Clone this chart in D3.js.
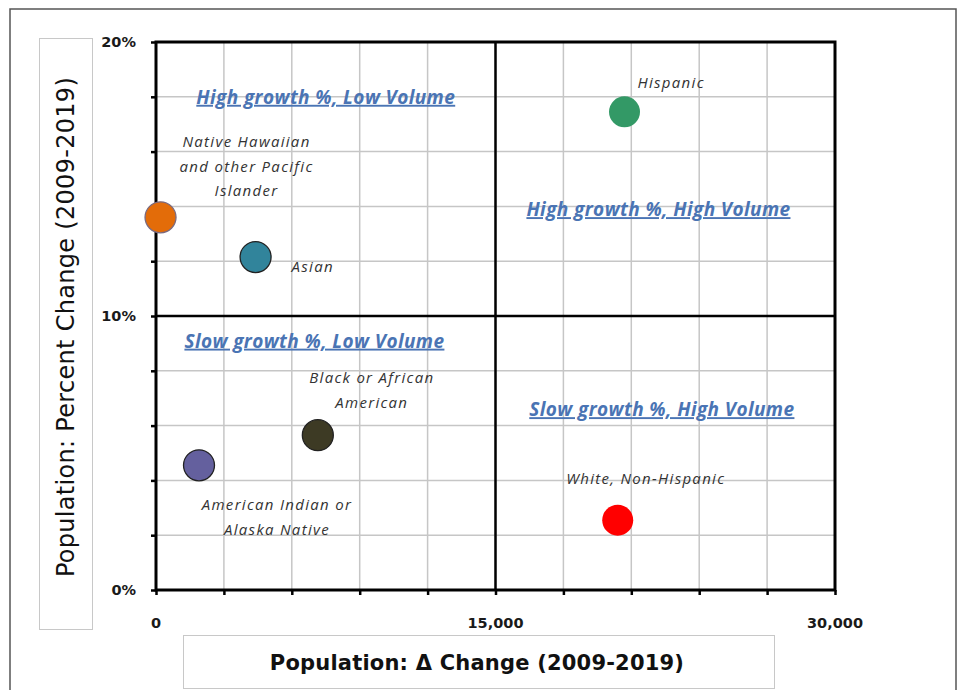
<!DOCTYPE html>
<html>
<head>
<meta charset="utf-8">
<script src="https://cdn.jsdelivr.net/npm/d3@7"></script>
<style>
  body { margin: 0; background: #fff; }
  svg { display: block; }
</style>
</head>
<body>
<div id="chart"></div>
<script>
// values
var groups = ["Hispanic", "White, Non-Hispanic", "Asian",
  "Native Hawaiian and other Pacific Islander", "Black or African American",
  "American Indian or Alaska Native"];
var deltaChange = [20700, 20400, 4400, 200, 7150, 1900];
var pctChange = [17.45, 2.55, 12.15, 13.6, 5.65, 4.55];

var xTickLabels = [0, 15000, 30000];
var yTickLabels = [0, 10, 20];

var quadrantNames = ["High growth %, Low Volume", "High growth %, High Volume",
  "Slow growth %, Low Volume", "Slow growth %, High Volume"];
var quadrantX = [7500, 22200, 7000, 22350];
var quadrantY = [18, 13.9, 9.1, 6.6];

var colors = ["#339966", "#ff0000", "#31849b", "#e36c09", "#3d3a24", "#64609e"];
var strokes = ["none", "none", "#222", "#7a6a80", "#222", "#222"];

// label lines + offsets from point (px)
var labelLines = [["Hispanic"], ["White, Non-Hispanic"], ["Asian"],
  ["Native Hawaiian", "and other Pacific", "Islander"],
  ["Black  or African", "American"], ["American  Indian or", "Alaska Native"]];
var labelPos = [
  {dx: 13, dy: -24, anchor: "start"},
  {dx: 28, dy: -36, anchor: "middle"},
  {dx: 36, dy: 15, anchor: "start"},
  {dx: 86, dy: -70, anchor: "middle"},
  {dx: 54, dy: -52, anchor: "middle"},
  {dx: 78, dy: 45, anchor: "middle"}
];

var margin = {top: 42, left: 156};
var width = 679, height = 548;

var svg = d3.select("#chart").append("svg")
  .attr("width", 961).attr("height", 690);

// outer frame
svg.append("rect")
  .attr("x", 10).attr("y", 9).attr("width", 946).attr("height", 700)
  .attr("fill", "none").attr("stroke", "#555").attr("stroke-width", 1.5);

// axis title boxes
svg.append("rect")
  .attr("x", 39.5).attr("y", 38.5).attr("width", 53).attr("height", 591)
  .attr("fill", "none").attr("stroke", "#c8c8c8");
svg.append("rect")
  .attr("x", 183.5).attr("y", 635.5).attr("width", 591).attr("height", 53)
  .attr("fill", "none").attr("stroke", "#c8c8c8");

svg.append("text")
  .attr("transform", "translate(74,327) rotate(-90)")
  .attr("text-anchor", "middle")
  .style("font-family", "DejaVu Sans").style("font-size", "24px")
  .style("letter-spacing", "0.3px")
  .style("fill", "#111")
  .text("Population:  Percent Change (2009-2019)");

svg.append("text")
  .attr("x", 477).attr("y", 670)
  .attr("text-anchor", "middle")
  .style("font-family", "DejaVu Sans").style("font-size", "21px").style("font-weight", "bold")
  .style("letter-spacing", "0.2px")
  .style("fill", "#111")
  .text("Population:  \u0394 Change (2009-2019)");

var g = svg.append("g")
  .attr("transform", "translate(" + margin.left + "," + margin.top + ")");

var x = d3.scaleLinear().domain([0, 30000]).range([0, width]);
var y = d3.scaleLinear().domain([0, 20]).range([height, 0]);

// gridlines
var xGrid = d3.range(0, 30001, 3000);
var yGrid = d3.range(0, 20.01, 2);
g.selectAll(".vgrid").data(xGrid).enter().append("line")
  .attr("x1", function(d) { return x(d); }).attr("x2", function(d) { return x(d); })
  .attr("y1", 0).attr("y2", height)
  .attr("stroke", "#c6c6c6").attr("stroke-width", 1.5);
g.selectAll(".hgrid").data(yGrid).enter().append("line")
  .attr("y1", function(d) { return y(d); }).attr("y2", function(d) { return y(d); })
  .attr("x1", 0).attr("x2", width)
  .attr("stroke", "#c6c6c6").attr("stroke-width", 1.5);

// quadrant dividers
g.append("line")
  .attr("x1", x(15000)).attr("x2", x(15000)).attr("y1", 0).attr("y2", height)
  .attr("stroke", "#000").attr("stroke-width", 2.5);
g.append("line")
  .attr("y1", y(10)).attr("y2", y(10)).attr("x1", 0).attr("x2", width)
  .attr("stroke", "#000").attr("stroke-width", 2.5);

// plot border
g.append("rect")
  .attr("width", width).attr("height", height)
  .attr("fill", "none").attr("stroke", "#000").attr("stroke-width", 3);

// axes: tick marks
var xAxis = g.append("g")
  .attr("transform", "translate(0," + height + ")")
  .call(d3.axisBottom(x).tickValues(xGrid).tickSize(5).tickFormat(""));
var yAxis = g.append("g")
  .call(d3.axisLeft(y).tickValues(yGrid).tickSize(5).tickFormat(""));
[xAxis, yAxis].forEach(function(a) {
  a.select(".domain").remove();
  a.selectAll("line").attr("stroke", "#000").attr("stroke-width", 2.5);
});

// tick labels
g.selectAll(".xlab").data(xTickLabels).enter().append("text")
  .attr("x", function(d) { return x(d); })
  .attr("y", height + 38)
  .attr("text-anchor", "middle")
  .style("font-family", "DejaVu Sans").style("font-size", "14.5px").style("font-weight", "bold")
  .style("fill", "#1a1a1a")
  .text(d3.format(","));
g.selectAll(".ylab").data(yTickLabels).enter().append("text")
  .attr("x", -20)
  .attr("y", function(d) { return y(d) + 5; })
  .attr("text-anchor", "end")
  .style("font-family", "DejaVu Sans").style("font-size", "14.5px").style("font-weight", "bold")
  .style("fill", "#1a1a1a")
  .text(function(d) { return d + "%"; });

// quadrant labels
g.selectAll(".quad").data(quadrantNames).enter().append("text")
  .attr("x", function(d, i) { return x(quadrantX[i]); })
  .attr("y", function(d, i) { return y(quadrantY[i]) + 7; })
  .attr("text-anchor", "middle")
  .style("font-family", "Open Sans").style("font-size", "19px")
  .style("font-weight", "bold").style("font-style", "italic")
  .style("letter-spacing", "0.4px")
  .style("text-decoration", "underline")
  .style("fill", "#4a74b4")
  .text(function(d) { return d; });

// points
var data = groups.map(function(name, i) {
  return {name: name, dx: deltaChange[i], pct: pctChange[i], i: i};
});

g.selectAll(".dot").data(data).enter().append("circle")
  .attr("cx", function(d) { return x(d.dx); })
  .attr("cy", function(d) { return y(d.pct); })
  .attr("r", 15.5)
  .attr("fill", function(d) { return colors[d.i]; })
  .attr("stroke", function(d) { return strokes[d.i]; })
  .attr("stroke-width", 1.3);

// point labels
var labels = g.selectAll(".plab").data(data).enter().append("text")
  .attr("text-anchor", function(d) { return labelPos[d.i].anchor; })
  .style("font-family", "Open Sans").style("font-size", "15px")
  .style("font-style", "italic").style("letter-spacing", "1.3px")
  .style("fill", "#333");
labels.each(function(d) {
  var t = d3.select(this);
  var lx = x(d.dx) + labelPos[d.i].dx;
  var ly = y(d.pct) + labelPos[d.i].dy;
  labelLines[d.i].forEach(function(line, k) {
    t.append("tspan").attr("x", lx).attr("y", ly + k * 24.5).text(line);
  });
});
</script>
</body>
</html>
